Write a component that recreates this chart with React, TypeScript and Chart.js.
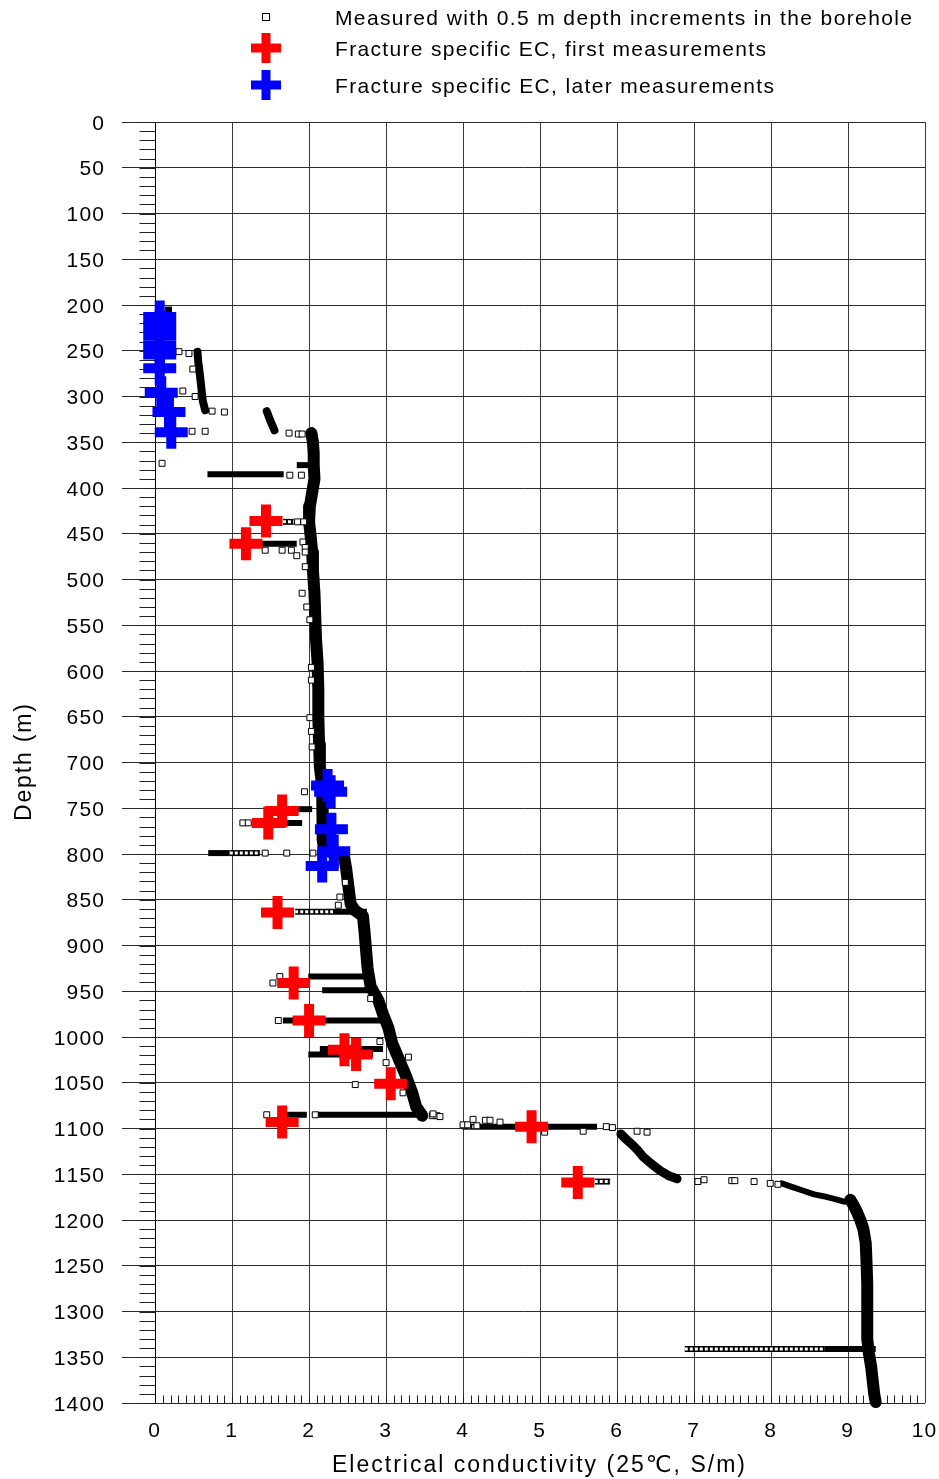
import React, { useEffect, useRef } from "react";
import { Chart, registerables } from "chart.js";

Chart.register(...registerables);

// ---------- axes ----------
const xTickValues = [0, 1, 2, 3, 4, 5, 6, 7, 8, 9, 10];
const xTickLabels = ["0", "1", "2", "3", "4", "5", "6", "7", "8", "9", "10"];
const yTickValues = [0, 50, 100, 150, 200, 250, 300, 350, 400, 450, 500, 550, 600, 650, 700, 750, 800, 850, 900, 950, 1000, 1050, 1100, 1150, 1200, 1250, 1300, 1350, 1400];
const yTickLabels = ["0", "50", "100", "150", "200", "250", "300", "350", "400", "450", "500", "550", "600", "650", "700", "750", "800", "850", "900", "950", "1000", "1050", "1100", "1150", "1200", "1250", "1300", "1350", "1400"];

const xTitle = "Electrical conductivity (25\u2103, S/m)";
const yTitle = "Depth (m)";
const legendLabels = [
  "Measured with 0.5 m depth increments in the borehole",
  "Fracture specific EC, first measurements",
  "Fracture specific EC, later measurements",
];

// ---------- fracture specific EC ----------
const laterEC = [0.06, 0.06, 0.06, 0.06, 0.06, 0.06, 0.08, 0.18, 0.21, 2.24, 2.28, 2.29, 2.32, 2.17];
const laterDepth = [213, 223, 233, 244, 254, 269, 296, 317, 339, 725, 732, 773, 797, 813];

const firstEC = [1.44, 1.18, 1.65, 1.47, 1.59, 1.8, 2.0, 2.46, 2.61, 3.06, 1.65, 4.89, 5.49];
const firstDepth = [436, 461, 753, 766, 864, 941, 982, 1014, 1019, 1051, 1093, 1098, 1159];

// ---------- measured profile (dense runs of 0.5 m readings) ----------
const upperDepth = [251, 262, 275, 290, 305, 315];
const upperEC = [0.55, 0.56, 0.58, 0.6, 0.62, 0.65];

const clusterDepth = [316, 325, 337];
const clusterEC = [1.45, 1.49, 1.55];

const mainDepth = [340, 350, 362, 375, 390, 405, 420, 437, 452, 470, 490, 515, 540, 565, 590, 620, 650, 680, 705, 725, 745, 765, 785, 796, 801, 815, 835, 855, 862, 868, 885, 905, 925, 945, 960, 975, 990, 1007, 1025, 1043, 1061, 1076, 1086];
const mainEC = [2.03, 2.05, 2.06, 2.06, 2.07, 2.04, 2.01, 2.0, 2.02, 2.04, 2.05, 2.07, 2.08, 2.09, 2.11, 2.12, 2.12, 2.13, 2.14, 2.17, 2.18, 2.18, 2.17, 2.2, 2.45, 2.48, 2.51, 2.54, 2.6, 2.7, 2.72, 2.74, 2.76, 2.8, 2.9, 2.96, 3.03, 3.08, 3.17, 3.26, 3.34, 3.39, 3.47];

const lowerDepth = [1106, 1112, 1118, 1124, 1131, 1139, 1146, 1152, 1155];
const lowerEC = [6.05, 6.12, 6.2, 6.27, 6.34, 6.45, 6.56, 6.68, 6.78];

const deepSparseDepth = [1160, 1164, 1168, 1172, 1174, 1177, 1180];
const deepSparseEC = [8.14, 8.28, 8.42, 8.56, 8.68, 8.82, 8.95];

const deepDepth = [1178, 1185, 1192, 1200, 1210, 1225, 1245, 1270, 1290, 1310, 1330, 1345, 1360, 1375, 1390, 1399];
const deepEC = [9.03, 9.08, 9.12, 9.16, 9.2, 9.23, 9.24, 9.25, 9.25, 9.25, 9.25, 9.27, 9.3, 9.32, 9.34, 9.36];

// ---------- readings held at one depth (horizontal runs) ----------
const solidDepth = [205, 375, 385, 461, 751, 766, 799, 863, 934, 949, 982, 1013, 1019, 1085, 1085, 1098, 1341];
const solidFrom = [0.13, 1.84, 0.68, 1.39, 1.86, 1.26, 0.69, 2.31, 1.99, 2.17, 1.66, 2.14, 1.99, 1.71, 2.1, 4.22, 8.7];
const solidTo = [0.22, 2.0, 1.67, 1.84, 2.04, 1.91, 0.97, 2.75, 2.82, 2.77, 3.01, 2.96, 2.83, 1.97, 3.53, 5.74, 9.36];

const hatchDepth = [437, 799, 863, 1098, 1158, 1341];
const hatchFrom = [1.66, 0.97, 1.82, 3.99, 5.71, 6.88];
const hatchTo = [1.8, 1.36, 2.31, 4.22, 5.91, 8.7];

// ---------- isolated readings ----------
const singleEC = [0.31, 0.44, 0.49, 0.36, 0.52, 0.74, 0.9, 0.65, 0.48, 0.09, 1.74, 1.86, 1.91, 1.75, 1.9, 1.85, 1.93, 1.92, 1.95, 1.95, 1.43, 1.65, 1.77, 1.84, 1.95, 1.91, 1.97, 2.01, 2.03, 2.03, 2.01, 2.03, 2.04, 1.94, 1.14, 1.21, 1.43, 1.71, 2.05, 2.4, 2.38, 2.47, 1.62, 1.53, 2.8, 2.92, 3.29, 3.0, 2.6, 3.22, 1.6, 1.45, 2.08, 3.6, 3.66, 3.7, 3.61, 4.0, 4.06, 4.13, 4.18, 4.29, 4.35, 4.48, 5.06, 5.56, 5.86, 5.94, 6.26, 6.39, 7.05, 7.13, 7.49, 7.53, 7.78, 7.99, 8.09];
const singleDepth = [251, 253, 270, 294, 300, 316, 317, 338, 338, 373, 340, 341, 341, 386, 386, 437, 437, 459, 465, 470, 468, 468, 468, 474, 486, 515, 530, 544, 596, 610, 651, 666, 683, 732, 766, 766, 799, 799, 799, 847, 856, 831, 934, 941, 958, 1005, 1022, 1028, 1052, 1061, 982, 1085, 1085, 1086, 1086, 1087, 1084, 1096, 1096, 1090, 1097, 1091, 1091, 1093, 1104, 1103, 1098, 1099, 1103, 1104, 1158, 1156, 1157, 1157, 1158, 1160, 1161];

const FONT = '"Liberation Sans", Arial, "DejaVu Sans", sans-serif';

function pts(xs: number[], ys: number[]) {
  return xs.map((x, i) => ({ x, y: ys[i] }));
}

function drawSpaced(ctx: CanvasRenderingContext2D, text: string, x: number, y: number, align: string, spacing: number) {
  const chars = Array.from(text);
  const widths = chars.map((c) => ctx.measureText(c).width);
  const total = widths.reduce((a, b) => a + b, 0) + spacing * (chars.length - 1);
  let cx = align === "left" ? x : align === "center" ? x - total / 2 : x - total;
  ctx.textAlign = "left";
  chars.forEach((c, i) => {
    ctx.fillText(c, cx, y);
    cx += widths[i] + spacing;
  });
}

function drawFit(ctx: CanvasRenderingContext2D, text: string, x: number, y: number, width: number, align: string) {
  const chars = Array.from(text);
  const natural = chars.map((c) => ctx.measureText(c).width).reduce((a, b) => a + b, 0);
  const spacing = chars.length > 1 ? (width - natural) / (chars.length - 1) : 0;
  drawSpaced(ctx, text, x, y, align, spacing);
}

function drawCrossMark(ctx: CanvasRenderingContext2D, x: number, y: number, half: number, thick: number, color: string) {
  ctx.fillStyle = color;
  ctx.fillRect(x - half, y - thick / 2, half * 2, thick);
  ctx.fillRect(x - thick / 2, y - half, thick, half * 2);
}

const decor = {
  id: "decor",
  beforeDatasetsDraw(chart: any) {
    const { ctx, scales } = chart;
    const xs = scales.x;
    const ys = scales.y;
    ctx.save();
    ctx.strokeStyle = "#222";
    ctx.lineWidth = 1;
    ctx.beginPath();
    const x0 = Math.round(xs.getPixelForValue(0)) + 0.5;
    for (let d = 0; d <= 1400; d += 10) {
      const py = Math.round(ys.getPixelForValue(d)) + 0.5;
      ctx.moveTo(x0 - 16, py);
      ctx.lineTo(x0, py);
    }
    const yb = Math.round(ys.getPixelForValue(1400)) + 0.5;
    for (let i = 1; i < 100; i++) {
      const px = Math.round(xs.getPixelForValue(i / 10)) + 0.5;
      ctx.moveTo(px, yb);
      ctx.lineTo(px, yb - 8);
    }
    ctx.stroke();
    ctx.restore();
  },
  afterDraw(chart: any) {
    const { ctx, scales } = chart;
    const xs = scales.x;
    const ys = scales.y;
    ctx.save();
    ctx.fillStyle = "#000";
    ctx.textBaseline = "alphabetic";
    ctx.font = `21px ${FONT}`;
    yTickValues.forEach((v, i) => {
      const py = ys.getPixelForValue(v);
      drawSpaced(ctx, yTickLabels[i], 104, py + 7.5, "right", 1.2);
    });
    xTickValues.forEach((v, i) => {
      const px = xs.getPixelForValue(v);
      drawSpaced(ctx, xTickLabels[i], px - 1, 1437, "center", 1);
    });
    ctx.font = `23px ${FONT}`;
    drawFit(ctx, xTitle, 332, 1472, 413, "left");
    ctx.save();
    ctx.translate(31, 763);
    ctx.rotate(-Math.PI / 2);
    drawFit(ctx, yTitle, -58, 0, 117, "left");
    ctx.restore();

    // legend
    ctx.font = `21px ${FONT}`;
    ctx.fillStyle = "#fff";
    ctx.fillRect(262.5, 13.5, 7, 7);
    ctx.strokeStyle = "#000";
    ctx.lineWidth = 1;
    ctx.strokeRect(262.5, 13.5, 7, 7);
    drawCrossMark(ctx, 266, 48, 15, 9, "#ff0000");
    drawCrossMark(ctx, 266, 85, 15, 9, "#0000ff");
    ctx.fillStyle = "#000";
    drawFit(ctx, legendLabels[0], 335, 25, 577, "left");
    drawFit(ctx, legendLabels[1], 335, 56, 431, "left");
    drawFit(ctx, legendLabels[2], 335, 93, 439, "left");
    ctx.restore();
  },
};

export default function App() {
  const ref = useRef<HTMLCanvasElement>(null);
  useEffect(() => {
    const canvas = ref.current;
    if (!canvas) return;
    const datasets: any[] = [];
    const lineSet = (data: any[], width: number, color: string, order: number, cap = "round", dash: number[] = []) => ({
      data,
      showLine: true,
      borderColor: color,
      borderWidth: width,
      borderCapStyle: cap,
      borderJoinStyle: "round",
      borderDash: dash,
      pointRadius: 0,
      fill: false,
      tension: 0,
      clip: false,
      order,
    });

    datasets.push({
      label: legendLabels[2],
      data: pts(laterEC, laterDepth),
      pointStyle: "cross",
      pointRadius: 16.5,
      pointBorderWidth: 10,
      pointBorderColor: "#0000ff",
      pointBackgroundColor: "#0000ff",
      showLine: false,
      clip: false,
      order: 0,
    });
    datasets.push({
      label: legendLabels[1],
      data: pts(firstEC, firstDepth),
      pointStyle: "cross",
      pointRadius: 16.5,
      pointBorderWidth: 10,
      pointBorderColor: "#ff0000",
      pointBackgroundColor: "#ff0000",
      showLine: false,
      clip: false,
      order: 1,
    });
    datasets.push({
      label: legendLabels[0],
      data: pts(singleEC, singleDepth),
      pointStyle: "rect",
      pointRadius: 4.2,
      pointBorderWidth: 1,
      pointBorderColor: "#000",
      pointBackgroundColor: "#fff",
      showLine: false,
      clip: false,
      order: 2,
    });
    hatchDepth.forEach((d, i) => {
      datasets.push(lineSet(pts([hatchFrom[i], hatchTo[i]], [d, d]), 3, "#fff", 3, "butt", [3, 2]));
      datasets.push(lineSet(pts([hatchFrom[i], hatchTo[i]], [d, d]), 6, "#000", 4, "butt"));
    });
    solidDepth.forEach((d, i) => {
      datasets.push(lineSet(pts([solidFrom[i], solidTo[i]], [d, d]), 6, "#000", 5, "butt"));
    });
    datasets.push(lineSet(pts(upperEC, upperDepth), 8, "#000", 6));
    datasets.push(lineSet(pts(clusterEC, clusterDepth), 8, "#000", 6));
    datasets.push(lineSet(pts(mainEC, mainDepth), 12, "#000", 6));
    datasets.push(lineSet(pts(lowerEC, lowerDepth), 9, "#000", 6));
    datasets.push(lineSet(pts(deepSparseEC, deepSparseDepth), 6, "#000", 6));
    datasets.push(lineSet(pts(deepEC, deepDepth), 12, "#000", 6));

    const chart = new Chart(canvas, {
      type: "scatter",
      data: { datasets },
      options: {
        responsive: false,
        animation: false,
        events: [],
        layout: { autoPadding: false, padding: { left: 122, top: 122, right: 14, bottom: 76 } },
        plugins: { legend: { display: false }, tooltip: { enabled: false } },
        scales: {
          x: {
            type: "linear",
            min: -0.43,
            max: 10,
            border: { display: false },
            ticks: { display: false },
            grid: {
              drawTicks: false,
              lineWidth: 1,
              color: (c: any) => (c.tick && c.tick.value === 0 ? "#000" : "#3a3a3a"),
            },
            afterBuildTicks: (s: any) => {
              s.ticks = xTickValues.map((v) => ({ value: v }));
            },
          },
          y: {
            type: "linear",
            min: 0,
            max: 1400,
            reverse: true,
            border: { display: false },
            ticks: { display: false },
            grid: { drawTicks: false, lineWidth: 1, color: "#2a2a2a" },
            afterBuildTicks: (s: any) => {
              s.ticks = yTickValues.map((v) => ({ value: v }));
            },
          },
        },
      } as any,
      plugins: [decor],
    });
    return () => chart.destroy();
  }, []);

  return (
    <div style={{ position: "absolute", left: 0, top: 0, width: 939, height: 1479, background: "#fff" }}>
      <canvas ref={ref} width={939} height={1479} style={{ display: "block", width: 939, height: 1479 }} />
    </div>
  );
}
